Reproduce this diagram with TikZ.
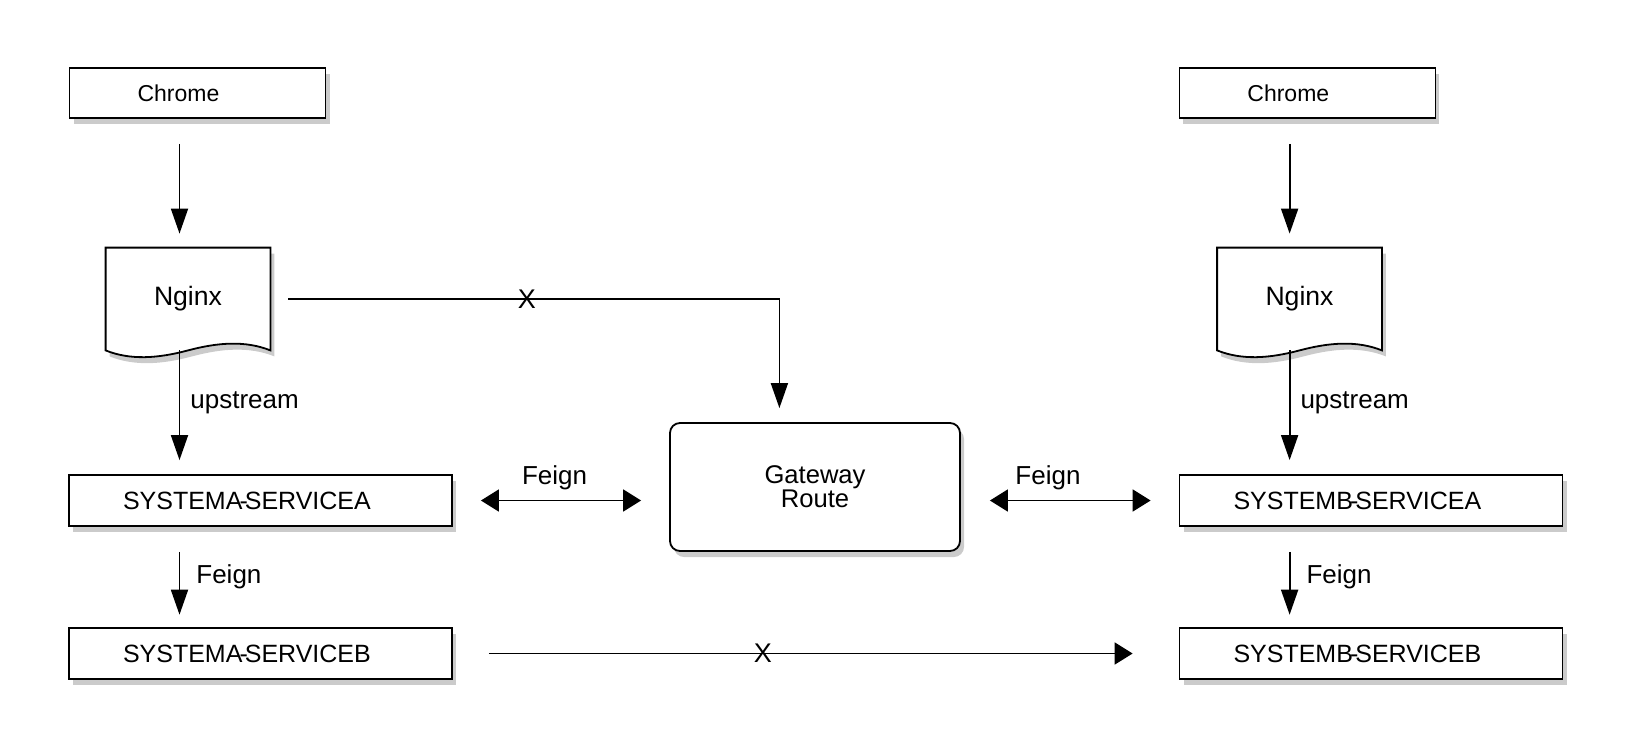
\documentclass[tikz,border=0pt]{standalone}
\usepackage{fontspec}
\setmainfont{Liberation Sans}
\usetikzlibrary{arrows.meta,shadows,backgrounds}

\definecolor{Shade}{HTML}{8C8C8C}

\tikzset{
  box/.style={draw, line width=0.9pt, fill=white, align=left, minimum height=25pt, inner ysep=0pt,
    drop shadow={shadow xshift=2pt, shadow yshift=-3pt, fill=Shade, opacity=0.45}},
  chromebox/.style={box, text width=60pt, inner xsep=34pt, font=\fontsize{11.5}{13}\selectfont},
  servbox/.style={box, text width=137.5pt, inner xsep=27pt, minimum height=25.5pt, font=\fontsize{12.5}{14}\selectfont},
  gwbox/.style={box, rounded corners=5pt, align=center, minimum width=145pt, minimum height=64pt,
    font=\fontsize{12.8}{14}\selectfont},
  docnode/.style={inner sep=0pt, minimum width=82pt, minimum height=51pt, font=\fontsize{13.3}{15}\selectfont},
  docline/.style={draw, line width=0.9pt, fill=white,
    drop shadow={shadow xshift=2pt, shadow yshift=-3pt, fill=Shade, opacity=0.45}},
  vline/.style={line width=0.9pt, -{Triangle[length=12.5pt, width=8.5pt]}},
  hline/.style={line width=0.9pt, -{Triangle[length=9pt, width=11pt]}},
  hboth/.style={line width=0.9pt, {Triangle[length=9pt, width=11pt]}-{Triangle[length=9pt, width=11pt]}},
  lbl/.style={inner sep=0pt, font=\fontsize{13}{15}\selectfont},
  cross/.style={inner sep=0pt, font=\fontsize{13.5}{15}\selectfont}
}

\begin{document}
\begin{tikzpicture}[x=0.5pt, y=-0.5pt]

 \useasboundingbox (0,0) rectangle (1636,728);

 %%%%%%%%%% Columns of the arrows %%%%%%%%%%
 \coordinate (colL) at (179.5,0);
 \coordinate (colR) at (1289.6,0);

 %%%%%%%%%% Browsers %%%%%%%%%%
 \node[chromebox] (chromeL) at (197.5,93) {Chrome};
 \node[chromebox] (chromeR) at (1307.4,93) {Chrome};

 %%%%%%%%%% Nginx documents %%%%%%%%%%
 \node[docnode] (ngxL) at (188,299) {Nginx};
 \node[docnode] (ngxR) at (1299.5,299) {Nginx};

 \begin{scope}[on background layer]
  \foreach \s in {L,R}
  {
    \path[docline] (ngx\s.south east) -- (ngx\s.north east) -- (ngx\s.north west) -- (ngx\s.south west)
      .. controls +(25,10) and +(-30,8) .. (ngx\s.south)
      .. controls +(30,-8) and +(-25,-10) .. (ngx\s.south east) -- cycle;
  }
 \end{scope}

 %%%%%%%%%% Services %%%%%%%%%%
 \node[servbox] (sysLA) at (260.5,500.5) {SYSTEMA\kern-0.12em-\kern-0.12em SERVICEA};
 \node[servbox] (sysLB) at (260.5,653.5) {SYSTEMA\kern-0.12em-\kern-0.12em SERVICEB};
 \node[servbox] (sysRA) at (1371,500.5) {SYSTEMB\kern-0.12em-\kern-0.12em SERVICEA};
 \node[servbox] (sysRB) at (1371,653.5) {SYSTEMB\kern-0.12em-\kern-0.12em SERVICEB};

 %%%%%%%%%% Gateway %%%%%%%%%%
 \node[gwbox] (gw) at (815,487) {Gateway\\[-2pt]Route};

 %%%%%%%%%% Vertical arrows %%%%%%%%%%
 \foreach \s in {L,R}
 {
   \draw[vline, shorten <=12.5pt, shorten >=7pt] (chrome\s.south -| col\s) -- (ngx\s.north -| col\s);
   \draw[vline, shorten >=7pt] (ngx\s.south -| col\s) -- node[lbl, right=5pt, pos=0.42] {upstream} (sys\s A.north -| col\s);
   \draw[vline, shorten <=12.5pt, shorten >=6.2pt] (sys\s A.south -| col\s) -- node[lbl, right=8pt, pos=0.5] {Feign} (sys\s B.north -| col\s);
 }

 %%%%%%%%%% Feign to the gateway %%%%%%%%%%
 \draw[hboth, shorten <=14pt, shorten >=14pt] (sysLA.east) -- node[lbl, above=5pt, pos=0.47] {Feign} (sysLA.east -| gw.west);
 \draw[hboth, shorten <=14.5pt, shorten >=14pt] (gw.east |- sysRA.west) -- node[lbl, above=5pt, pos=0.4] {Feign} (sysRA.west);

 %%%%%%%%%% Crossed out calls %%%%%%%%%%
 \draw[vline, shorten <=9pt, shorten >=7pt] (ngxL.east) -| node[cross, pos=0.252] {X} ([xshift=-17.8pt]gw.north);
 \draw[hline, shorten <=18pt, shorten >=23pt] (sysLB.east) -- node[cross, pos=0.427] {X} (sysRB.west);

\end{tikzpicture}
\end{document}
